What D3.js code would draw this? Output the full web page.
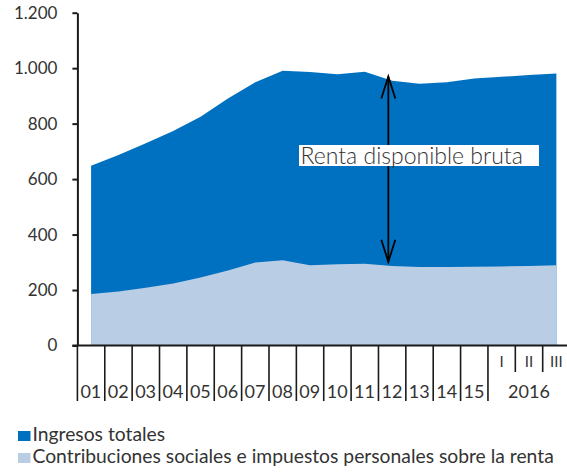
<!DOCTYPE html>
<html><head><meta charset="utf-8">
<script src="https://cdn.jsdelivr.net/npm/d3@7"></script>
<style>
body{margin:0;background:#fff}
svg{display:block}
text{font-family:Lato,"Open Sans",sans-serif;fill:#333}
</style>
</head><body>
<svg id="chart" width="567" height="474"></svg>
<script>
// ---- data ----
const categories = ["01","02","03","04","05","06","07","08","09","10","11","12","13","14","15","I","II","III"];
const yearLabels = ["01","02","03","04","05","06","07","08","09","10","11","12","13","14","15"];
const quarterLabels = ["I","II","III"];
const quarterYear = "2016";
const ingresosTotales = [648,687,729,773,825,891,949,991,986,978,987,955,944,949,963,969,975,981];
const contribuciones = [186,195,208,224,245,270,299,307,289,293,295,287,283,283,284,285,287,289];
const yTicks = [0,200,400,600,800,1000,1200];
const seriesNames = ["Ingresos totales","Contribuciones sociales e impuestos personales sobre la renta"];
const annotationText = "Renta disponible bruta";
const arrowValues = [970,302];

(function(){
const svg = d3.select("#chart");
const mLeft = 77.4, slot = 27.37, mBottom = 345.5, mTop = 12.7;
const colDark = "#0070c0", colLight = "#b9cde5", axisCol = "#1a1a1a";

const x = d3.scaleBand().domain(categories).range([mLeft, mLeft + slot*categories.length]).padding(0);
const y = d3.scaleLinear().domain([0,1200]).range([mBottom, mTop]);
const cx = c => x(c) + x.bandwidth()/2;

const area = d3.area()
  .x((d,i) => cx(categories[i]))
  .y0(y(0))
  .y1(d => y(d));

svg.append("path").datum(ingresosTotales).attr("d", area).attr("fill", colDark);
svg.append("path").datum(contribuciones).attr("d", area).attr("fill", colLight);

// y axis
const yAxis = d3.axisLeft(y).tickValues(yTicks).tickSize(5).tickSizeOuter(0).tickPadding(15)
  .tickFormat(d => d3.format(",")(d).replace(/,/g, "."));
const gy = svg.append("g").attr("transform", `translate(${mLeft},0)`).call(yAxis);
gy.select(".domain").attr("stroke", axisCol).attr("stroke-width", 2);
gy.selectAll(".tick line").attr("stroke", axisCol).attr("stroke-width", 2);
gy.selectAll(".tick text").attr("font-size", 17).attr("fill", "#333")
  .style("font-family", "Lato, 'Open Sans', sans-serif");

// x axis
svg.append("line").attr("x1", mLeft - 5).attr("x2", 567).attr("y1", y(0)).attr("y2", y(0))
  .attr("stroke", axisCol).attr("stroke-width", 2);
categories.forEach((c, i) => {
  const isQuarter = i >= yearLabels.length + 1;
  svg.append("line").attr("x1", x(c)).attr("x2", x(c))
    .attr("y1", y(0)).attr("y2", isQuarter ? 372 : 401)
    .attr("stroke", axisCol).attr("stroke-width", 1.6);
});
yearLabels.forEach(c => {
  svg.append("text").attr("x", x(c) + 3).attr("y", 397.5)
    .attr("font-size", 18).text(c);
});
quarterLabels.forEach(c => {
  svg.append("text").attr("x", cx(c)).attr("y", 367).attr("text-anchor", "middle")
    .attr("font-size", 15).text(c);
});
const qMid = (x(quarterLabels[0]) + x(quarterLabels[2]) + x.bandwidth()) / 2;
svg.append("text").attr("x", qMid).attr("y", 397.5).attr("text-anchor", "middle")
  .attr("font-size", 18).text(quarterYear);

// annotation arrow
const ax = x("12") + x.bandwidth()*0.36;
const ay1 = y(arrowValues[0]), ay2 = y(arrowValues[1]);
const arrowG = svg.append("g").attr("stroke", "#000").attr("stroke-width", 1.8).attr("fill", "none");
arrowG.append("line").attr("x1", ax).attr("x2", ax).attr("y1", ay1).attr("y2", ay2);
arrowG.append("path").attr("d", `M${ax-7},${ay1+22} L${ax},${ay1} L${ax+7},${ay1+22}`);
arrowG.append("path").attr("d", `M${ax-7},${ay2-22} L${ax},${ay2} L${ax+7},${ay2-22}`);

svg.append("rect").attr("x", 299).attr("y", 145).attr("width", 240).attr("height", 21).attr("fill", "#fff");
svg.append("text").attr("x", 300.5).attr("y", 164).attr("font-size", 23).attr("font-weight", 300)
  .text(annotationText);

// legend
const legColors = [colDark, colLight];
seriesNames.forEach((s, i) => {
  const ly = 441 + i*22;
  svg.append("rect").attr("x", 18).attr("y", ly - 10).attr("width", 12.5).attr("height", 10).attr("fill", legColors[i]);
  svg.append("text").attr("x", 32.5).attr("y", ly).attr("font-size", 19.3).text(s);
});
})();
</script>
</body></html>
